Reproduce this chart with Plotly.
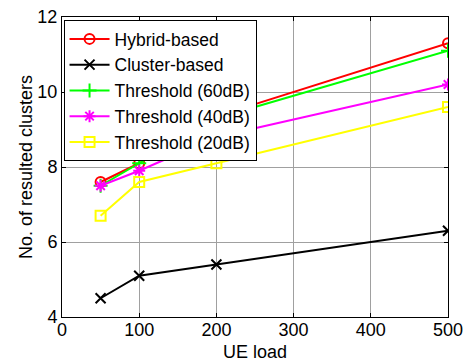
import plotly.graph_objects as go

ue_load = [50, 100, 200, 500]
hybrid = [7.6, 8.1, 9.35, 11.3]
cluster = [4.5, 5.1, 5.4, 6.3]
thr60 = [7.5, 8.1, 9.3, 11.1]
thr40 = [7.5, 7.9, 8.8, 10.2]
thr20 = [6.7, 7.6, 8.1, 9.6]

x_ticks = [0, 100, 200, 300, 400, 500]
y_ticks = [4, 6, 8, 10, 12]

series = [
    ("Hybrid-based", hybrid, "#ff0000", "circle-open"),
    ("Cluster-based", cluster, "#000000", "x-thin-open"),
    ("Threshold (60dB)", thr60, "#00ff00", "cross-thin-open"),
    ("Threshold (40dB)", thr40, "#ff00ff", "asterisk-open"),
    ("Threshold (20dB)", thr20, "#ffff00", "square-open"),
]

fig = go.Figure()
for name, vals, color, sym in series:
    fig.add_trace(go.Scatter(
        x=ue_load, y=vals, name=name, mode="lines+markers",
        line=dict(color=color, width=2),
        marker=dict(symbol=sym, size=10, color=color, line=dict(color=color, width=2)),
    ))

axis_common = dict(
    showgrid=True, gridcolor="#a0a0a0", gridwidth=1,
    showline=True, linecolor="black", linewidth=1, mirror="ticks",
    ticks="inside", ticklen=4, tickcolor="black",
    zeroline=False, automargin=False,
    tickfont=dict(family="Liberation Sans, Arial", size=18, color="black"),
)

fig.update_layout(
    width=464, height=361,
    margin=dict(l=62, r=16, t=17, b=44),
    paper_bgcolor="white", plot_bgcolor="white",
    font=dict(family="Liberation Sans, Arial", color="black"),
    xaxis=dict(range=[0, 500], tickvals=x_ticks, ticklabelstandoff=-4,
               **axis_common),
    yaxis=dict(range=[4, 12], tickvals=y_ticks,
               title=dict(text="No. of resulted clusters", font=dict(size=18), standoff=0),
               **axis_common),
    legend=dict(x=0.004, y=0.99, xanchor="left", yanchor="top",
                bgcolor="white", bordercolor="black", borderwidth=1,
                font=dict(size=17.5, color="black"),
                itemwidth=40, tracegroupgap=0),
    showlegend=True,
    annotations=[dict(text="UE load", xref="paper", yref="paper", x=0.5, y=0,
                      xanchor="center", yanchor="middle", yshift=-35,
                      showarrow=False, font=dict(size=18, color="black"))],
)

fig.write_html("out.html")
